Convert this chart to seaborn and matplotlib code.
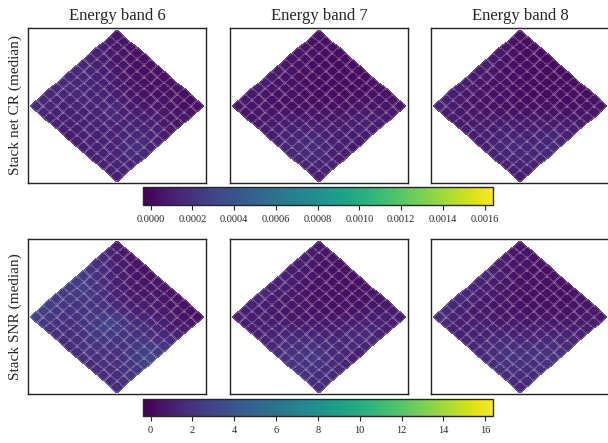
import numpy as np
import seaborn as sns
import matplotlib.pyplot as plt
import matplotlib.transforms as mtransforms

sns.set_style("white")
plt.rcParams["font.family"] = ["Liberation Serif", "DejaVu Serif"]

# Energy bands shown in the columns
bands = ["Energy band 6", "Energy band 7", "Energy band 8"]
row_labels = ["Stack net CR (median)", "Stack SNR (median)"]

# Cell values, written as seen on the diamond:
# row 0 runs along the upper-right edge (top corner -> right corner),
# column 0 runs along the upper-left edge (top corner -> left corner).
# Net count rate, units of 1e-4
cr_band6 = [
    [0.6, 0.5, 0.4, 0.4, 0.3, 0.3, 0.4, 0.3, 0.3, 0.4, 0.3, 0.2, 0.3],
    [0.8, 0.6, 0.5, 0.4, 0.3, 0.3, 0.3, 0.4, 0.3, 0.3, 0.4, 0.3, 0.4],
    [1.0, 0.8, 0.6, 0.5, 0.4, 0.3, 0.4, 0.3, 0.4, 0.5, 0.4, 0.5, 0.5],
    [1.2, 1.0, 0.8, 0.7, 0.6, 0.5, 0.5, 0.4, 0.5, 0.6, 0.7, 0.6, 0.6],
    [1.3, 1.2, 1.0, 0.9, 0.8, 0.7, 0.6, 0.6, 0.7, 0.8, 0.9, 0.8, 0.7],
    [1.4, 1.3, 1.2, 1.1, 1.0, 0.9, 0.9, 0.8, 0.9, 1.0, 1.1, 1.2, 1.0],
    [1.5, 1.4, 1.3, 1.2, 1.2, 1.3, 1.5, 1.2, 1.1, 1.2, 1.3, 1.4, 1.2],
    [1.4, 1.5, 1.4, 1.3, 1.3, 1.4, 1.6, 1.4, 1.3, 1.3, 1.5, 1.6, 1.3],
    [1.6, 1.5, 1.5, 1.4, 1.3, 1.3, 1.4, 1.3, 1.2, 1.4, 1.6, 1.9, 1.5],
    [1.5, 1.4, 1.3, 1.3, 1.2, 1.2, 1.3, 1.2, 1.2, 1.3, 1.5, 1.7, 1.4],
    [1.4, 1.3, 1.2, 1.2, 1.1, 1.1, 1.2, 1.1, 1.2, 1.2, 1.3, 1.4, 1.3],
    [1.5, 1.3, 1.2, 1.1, 1.1, 1.0, 1.1, 1.1, 1.1, 1.2, 1.2, 1.3, 1.2],
    [1.6, 1.4, 1.2, 1.1, 1.0, 1.0, 1.0, 1.0, 1.1, 1.1, 1.2, 1.2, 1.1],
]
cr_band7 = [
    [0.4, 0.3, 0.2, 0.2, 0.2, 0.1, 0.2, 0.2, 0.3, 0.3, 0.4, 0.5, 0.6],
    [0.4, 0.3, 0.2, 0.1, 0.1, 0.1, 0.1, 0.2, 0.2, 0.3, 0.5, 0.6, 0.7],
    [0.5, 0.3, 0.2, 0.1, 0.1, 0.1, 0.1, 0.1, 0.2, 0.4, 0.6, 0.8, 0.8],
    [0.5, 0.4, 0.2, 0.2, 0.1, 0.1, 0.1, 0.1, 0.3, 0.5, 0.8, 1.0, 0.9],
    [0.6, 0.4, 0.3, 0.2, 0.1, 0.1, 0.1, 0.2, 0.4, 0.6, 0.9, 1.2, 1.0],
    [0.6, 0.5, 0.3, 0.2, 0.2, 0.1, 0.2, 0.3, 0.5, 0.7, 1.0, 1.1, 0.9],
    [0.7, 0.5, 0.4, 0.3, 0.2, 0.2, 0.3, 0.4, 0.6, 0.8, 0.9, 1.0, 0.8],
    [0.8, 0.6, 0.4, 0.3, 0.3, 0.3, 0.5, 0.6, 0.8, 0.9, 0.9, 0.9, 0.8],
    [0.9, 0.6, 0.4, 0.3, 0.3, 0.4, 0.7, 0.9, 1.1, 1.2, 1.1, 1.0, 0.9],
    [0.8, 0.6, 0.4, 0.4, 0.5, 0.7, 0.9, 1.2, 1.4, 1.5, 1.3, 1.1, 1.0],
    [0.8, 0.6, 0.5, 0.5, 0.7, 0.9, 1.1, 1.3, 1.5, 1.6, 1.5, 1.3, 1.1],
    [0.7, 0.6, 0.5, 0.6, 0.8, 1.0, 1.2, 1.4, 1.5, 1.5, 1.4, 1.3, 1.2],
    [0.7, 0.6, 0.6, 0.7, 0.8, 1.0, 1.1, 1.3, 1.4, 1.4, 1.3, 1.2, 1.2],
]
cr_band8 = [
    [0.3, 0.2, 0.2, 0.1, 0.1, 0.1, 0.1, 0.1, 0.2, 0.2, 0.3, 0.4, 0.5],
    [0.4, 0.3, 0.2, 0.1, 0.1, 0.1, 0.1, 0.1, 0.1, 0.2, 0.3, 0.4, 0.6],
    [0.5, 0.3, 0.2, 0.2, 0.1, 0.1, 0.1, 0.1, 0.1, 0.2, 0.3, 0.5, 0.7],
    [0.7, 0.4, 0.3, 0.2, 0.1, 0.1, 0.1, 0.1, 0.2, 0.3, 0.4, 0.6, 0.8],
    [0.8, 0.5, 0.3, 0.2, 0.2, 0.1, 0.1, 0.2, 0.3, 0.4, 0.6, 0.8, 1.0],
    [0.9, 0.6, 0.4, 0.3, 0.2, 0.2, 0.2, 0.3, 0.4, 0.6, 0.8, 1.1, 1.2],
    [0.8, 0.6, 0.4, 0.3, 0.3, 0.3, 0.3, 0.4, 0.6, 0.8, 1.0, 1.3, 1.3],
    [0.8, 0.6, 0.4, 0.3, 0.3, 0.3, 0.4, 0.6, 0.8, 1.0, 1.2, 1.4, 1.5],
    [0.9, 0.7, 0.5, 0.4, 0.4, 0.5, 0.6, 0.8, 1.0, 1.2, 1.3, 1.4, 1.4],
    [1.0, 0.7, 0.5, 0.5, 0.5, 0.7, 0.9, 1.1, 1.3, 1.5, 1.4, 1.3, 1.3],
    [1.0, 0.8, 0.6, 0.6, 0.7, 0.8, 1.0, 1.2, 1.4, 1.5, 1.4, 1.3, 1.2],
    [1.1, 0.9, 0.7, 0.7, 0.8, 0.9, 1.1, 1.2, 1.3, 1.4, 1.3, 1.2, 1.1],
    [1.3, 1.0, 0.8, 0.8, 0.9, 1.0, 1.0, 1.1, 1.2, 1.3, 1.2, 1.1, 1.0],
]

# Signal-to-noise ratio
snr_band6 = [
    [1.0, 0.8, 0.6, 0.5, 0.5, 0.4, 0.5, 0.4, 0.4, 0.5, 0.4, 0.3, 0.4],
    [1.3, 1.0, 0.8, 0.6, 0.5, 0.5, 0.5, 0.5, 0.6, 0.5, 0.6, 0.5, 0.6],
    [1.6, 1.3, 1.0, 0.8, 0.7, 0.6, 0.6, 0.7, 0.7, 0.8, 0.8, 0.7, 0.9],
    [1.9, 1.6, 1.3, 1.0, 0.9, 0.8, 0.8, 0.9, 1.0, 1.0, 1.1, 1.0, 1.2],
    [2.2, 2.0, 1.7, 1.4, 1.2, 1.1, 1.1, 1.2, 1.3, 1.4, 1.4, 1.5, 1.6],
    [2.4, 2.3, 2.0, 1.8, 1.6, 1.5, 1.5, 1.6, 1.7, 1.8, 1.9, 2.0, 2.2],
    [2.6, 2.6, 2.3, 2.1, 2.0, 2.1, 2.4, 2.2, 2.0, 2.1, 2.3, 2.5, 2.6],
    [2.5, 2.4, 2.3, 2.2, 2.3, 2.6, 3.2, 2.7, 2.2, 2.1, 2.4, 2.8, 3.0],
    [2.4, 2.3, 2.2, 2.2, 2.3, 2.5, 2.8, 2.5, 2.2, 2.1, 2.3, 2.6, 2.7],
    [2.5, 2.3, 2.1, 2.1, 2.2, 2.3, 2.4, 2.3, 2.1, 2.0, 2.2, 2.3, 2.3],
    [2.6, 2.3, 2.0, 1.9, 2.0, 2.1, 2.2, 2.1, 2.0, 1.9, 2.0, 2.1, 2.0],
    [2.7, 2.3, 2.0, 1.8, 1.8, 1.9, 2.0, 2.0, 1.9, 1.8, 1.8, 1.9, 1.8],
    [2.9, 2.4, 2.0, 1.7, 1.6, 1.7, 1.8, 1.8, 1.7, 1.6, 1.6, 1.7, 1.6],
]
snr_band7 = [
    [0.7, 0.6, 0.5, 0.4, 0.4, 0.3, 0.4, 0.4, 0.5, 0.6, 0.7, 0.8, 0.9],
    [0.8, 0.6, 0.5, 0.3, 0.3, 0.3, 0.3, 0.4, 0.4, 0.6, 0.8, 0.9, 1.1],
    [0.9, 0.6, 0.4, 0.3, 0.3, 0.3, 0.3, 0.3, 0.4, 0.7, 0.9, 1.2, 1.2],
    [0.9, 0.7, 0.5, 0.4, 0.3, 0.3, 0.3, 0.3, 0.5, 0.8, 1.2, 1.5, 1.3],
    [1.0, 0.7, 0.6, 0.4, 0.3, 0.3, 0.3, 0.4, 0.7, 0.9, 1.3, 1.7, 1.5],
    [1.1, 0.9, 0.6, 0.5, 0.4, 0.3, 0.4, 0.6, 0.8, 1.1, 1.5, 1.6, 1.3],
    [1.2, 0.9, 0.7, 0.6, 0.5, 0.5, 0.6, 0.7, 1.0, 1.2, 1.4, 1.5, 1.2],
    [1.3, 1.0, 0.7, 0.6, 0.6, 0.6, 0.8, 1.0, 1.2, 1.4, 1.4, 1.3, 1.2],
    [1.4, 1.0, 0.8, 0.6, 0.6, 0.7, 1.1, 1.4, 1.6, 1.7, 1.6, 1.5, 1.3],
    [1.3, 1.0, 0.8, 0.7, 0.9, 1.1, 1.4, 1.8, 2.0, 2.1, 1.9, 1.6, 1.5],
    [1.3, 1.0, 0.9, 0.9, 1.1, 1.4, 1.6, 1.9, 2.2, 2.3, 2.1, 1.8, 1.6],
    [1.2, 1.0, 0.9, 1.0, 1.2, 1.5, 1.8, 2.0, 2.2, 2.2, 2.0, 1.8, 1.7],
    [1.2, 1.0, 1.0, 1.1, 1.3, 1.5, 1.7, 1.9, 2.0, 2.0, 1.9, 1.7, 1.6],
]
snr_band8 = [
    [0.6, 0.5, 0.4, 0.3, 0.3, 0.3, 0.3, 0.3, 0.4, 0.5, 0.6, 0.7, 0.8],
    [0.7, 0.6, 0.4, 0.3, 0.3, 0.3, 0.3, 0.3, 0.3, 0.4, 0.6, 0.7, 0.9],
    [0.9, 0.6, 0.5, 0.4, 0.3, 0.3, 0.3, 0.3, 0.3, 0.4, 0.6, 0.8, 1.1],
    [1.1, 0.7, 0.6, 0.4, 0.3, 0.3, 0.3, 0.3, 0.4, 0.5, 0.7, 0.9, 1.2],
    [1.2, 0.9, 0.6, 0.5, 0.4, 0.3, 0.3, 0.4, 0.5, 0.7, 0.9, 1.2, 1.5],
    [1.4, 1.0, 0.7, 0.5, 0.4, 0.4, 0.4, 0.5, 0.7, 0.9, 1.2, 1.6, 1.7],
    [1.3, 1.0, 0.7, 0.6, 0.5, 0.5, 0.6, 0.7, 0.9, 1.2, 1.5, 1.8, 1.9],
    [1.3, 1.0, 0.7, 0.6, 0.5, 0.6, 0.7, 0.9, 1.2, 1.5, 1.7, 2.0, 2.1],
    [1.4, 1.1, 0.8, 0.7, 0.7, 0.8, 1.0, 1.2, 1.5, 1.7, 1.9, 2.0, 2.0],
    [1.5, 1.1, 0.8, 0.8, 0.9, 1.1, 1.3, 1.6, 1.9, 2.1, 2.0, 1.9, 1.8],
    [1.5, 1.2, 0.9, 0.9, 1.1, 1.2, 1.5, 1.7, 2.0, 2.1, 2.0, 1.8, 1.7],
    [1.6, 1.3, 1.1, 1.1, 1.2, 1.3, 1.6, 1.7, 1.9, 2.0, 1.9, 1.7, 1.6],
    [1.8, 1.5, 1.2, 1.2, 1.3, 1.4, 1.5, 1.6, 1.7, 1.8, 1.7, 1.6, 1.5],
]

cr_maps = [np.array(cr_band6) * 1e-4, np.array(cr_band7) * 1e-4, np.array(cr_band8) * 1e-4]
snr_maps = [np.array(snr_band6), np.array(snr_band7), np.array(snr_band8)]

rows = [
    dict(maps=cr_maps, vmin=-0.000037, vmax=0.00164,
         ticks=np.arange(0, 0.00161, 0.0002), fmt="%.4f"),
    dict(maps=snr_maps, vmin=-0.37, vmax=16.38,
         ticks=np.arange(0, 17, 2), fmt="%d"),
]

fig = plt.figure(figsize=(6.08, 4.43), dpi=100)

lefts = [0.046, 0.378, 0.709]
bottoms = [0.587, 0.111]
cbar_boxes = [[0.235, 0.537, 0.576, 0.041], [0.235, 0.061, 0.576, 0.039]]

for r, spec in enumerate(rows):
    mesh = None
    for c, grid in enumerate(spec["maps"]):
        ax = fig.add_axes([lefts[c], bottoms[r], 0.293, 0.350])
        n = grid.shape[0]
        # reorder so that after a 45 deg turn the grid sits as written above
        data = grid[::-1, ::-1].T
        sns.heatmap(data, ax=ax, cmap="viridis", vmin=spec["vmin"], vmax=spec["vmax"],
                    cbar=False, linewidths=0.2, linecolor=(1, 1, 1, 0.18))
        mesh = ax.collections[0]
        mesh.set_transform(mtransforms.Affine2D().translate(-n / 2, -n / 2)
                           .rotate_deg(45) + ax.transData)
        h = n / np.sqrt(2)
        ax.set_xlim(-h * 1.023, h * 1.023)
        ax.set_ylim(-h * 1.013, h * 1.026)
        ax.set_xticks([])
        ax.set_yticks([])
        for s in ax.spines.values():
            s.set_visible(True)
            s.set_color("#222222")
            s.set_linewidth(1.0)
        if r == 0:
            ax.set_title(bands[c], fontsize=12)
        if c == 0:
            ax.set_ylabel(row_labels[r], fontsize=11)
        else:
            ax.set_ylabel("")
        ax.set_xlabel("")

    cax = fig.add_axes(cbar_boxes[r])
    cb = fig.colorbar(mesh, cax=cax, orientation="horizontal",
                      ticks=spec["ticks"], format=spec["fmt"])
    cb.outline.set_linewidth(1.0)
    cb.ax.tick_params(labelsize=7.5, length=3.5, width=0.8, direction="out")

fig.savefig("out.png", dpi=100)
